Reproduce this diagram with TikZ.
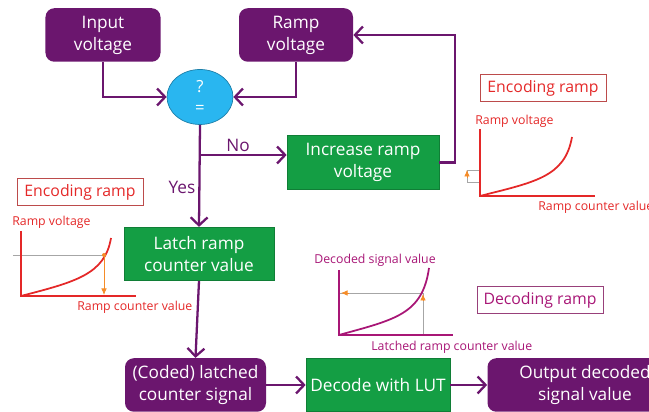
\documentclass[tikz,border=0pt]{standalone}
\usepackage{fontspec}
\setmainfont{Open Sans}
\usepackage{xcolor}
\definecolor{adcpurple}{RGB}{107,22,110}
\definecolor{adcgreen}{RGB}{20,158,68}
\definecolor{adcblue}{RGB}{41,182,240}
\definecolor{adcred}{RGB}{228,40,40}
\definecolor{adcmagenta}{RGB}{168,22,118}
\definecolor{adcorange}{RGB}{245,140,40}
\usetikzlibrary{arrows.meta, positioning, shapes.geometric}

\begin{document}
\begin{tikzpicture}[
  font=\fontsize{9.8}{12.5}\selectfont,
  purplebox/.style={fill=adcpurple, text=white, rounded corners=5pt, align=center,
    minimum height=1.07cm, inner sep=1pt},
  greenbox/.style={fill=adcgreen, draw=adcgreen!80!black, text=white, align=center,
    minimum height=1.07cm, inner sep=1pt},
  flow/.style={draw=adcpurple, line width=1.3pt, -{Straight Barb[length=1.6mm,width=3.4mm]}},
  tagbox/.style={draw=#1!60!gray, text=#1, font=\fontsize{9}{10}\selectfont, thin,
    minimum width=2.52cm, minimum height=0.54cm, inner sep=1pt},
  axislabel/.style={font=\fontsize{7}{8}\selectfont, inner sep=0pt, anchor=west},
  guide/.style={draw=gray!70, thin},
  tip/.style={adcorange, -{Latex[length=1.3mm,width=1.1mm]}}
]
  \useasboundingbox (0,0) rectangle (12.98,8.24);

  % Top inputs
  \node[purplebox, minimum width=2.3cm] (inp) at (2.06,7.54) {Input\\voltage};
  \node[purplebox, minimum width=2.28cm] (ramp) at (5.92,7.54) {Ramp\\voltage};

  % Comparator
  \node[ellipse, fill=adcblue, draw=adcblue!70!black, text=white, minimum width=1.32cm,
        minimum height=1.1cm, inner sep=0pt, align=center,
        font=\fontsize{9.5}{12}\selectfont] (cmp) at (4.00,6.30) {?\\=};

  \draw[flow] (inp.south) |- (cmp.west);
  \draw[flow] (ramp.south) |- (cmp.east);

  % Loop back
  \node[greenbox, minimum width=3.04cm] (incr) at (7.26,4.99) {Increase ramp\\voltage};
  \draw[flow] (incr.east) -- ++(0.32,0) |- (ramp.east);

  % Yes / No branch
  \node[greenbox, minimum width=3.0cm] (latch) at (3.98,3.16) {Latch ramp\\counter value};
  \coordinate (br) at (4.00,5.14);
  \draw[flow] (cmp.south) -- (latch.north);
  \draw[flow] (br) -- (br -| incr.west);
  \node[adcpurple] (no) at (4.76,5.33) {No};
  \node[adcpurple] (yes) at (3.64,4.50) {Yes};

  % Bottom row
  \node[purplebox, minimum width=2.82cm] (coded) at (3.91,0.54) {(Coded) latched\\counter signal};
  \node[greenbox, minimum width=2.88cm] (dec) at (7.56,0.54) {Decode with LUT};
  \node[purplebox, minimum width=3.9cm] (out) at (11.70,0.54) {Output decoded\\signal value};
  \draw[flow] (latch.south) -- (coded.north);
  \draw[flow] (coded.east) -- (dec.west);
  \draw[flow] (dec.east) -- (out.west);

  % Encoding ramp, right
  \node[tagbox=adcred] (encR) at (10.86,6.48) {Encoding ramp};
  \node[axislabel, adcred] (encRy) at (9.50,5.82) {Ramp voltage};
  \node[axislabel, adcred] (encRx) at (10.76,4.10) {Ramp counter value};
  \draw[guide] (9.60,4.84) -- (9.34,4.84) -- (9.34,4.60) -- (9.60,4.60);
  \draw[tip] (9.34,4.68) -- (9.34,4.84);
  \draw[adcred, line width=1.1pt] (9.60,5.66) -- (9.60,4.32) -- (11.90,4.32);
  \draw[adcred, line width=1pt] (9.60,4.32) .. controls (10.7,4.6) and (11.3,4.7) .. (11.44,5.50);

  % Encoding ramp, left
  \node[tagbox=adcred] (encL) at (1.60,4.40) {Encoding ramp};
  \node[axislabel, adcred] (encLy) at (0.24,3.80) {Ramp voltage};
  \node[axislabel, adcred] (encLx) at (1.54,2.10) {Ramp counter value};
  \draw[guide] (0.26,3.14) -- (2.08,3.14);
  \draw[adcred, line width=1.1pt] (0.42,3.62) -- (0.42,2.32) -- (2.72,2.32);
  \draw[adcred, line width=1pt] (0.42,2.32) .. controls (1.5,2.6) and (2.1,2.75) .. (2.22,3.48);
  \draw[tip] (2.08,3.14) -- (2.08,2.34);
  \fill[adcorange] (2.08,3.14) circle (0.04);

  % Decoding ramp
  \node[tagbox=adcmagenta] (decR) at (10.80,2.24) {Decoding ramp};
  \node[axislabel, adcmagenta] (decy) at (6.28,3.04) {Decoded signal value};
  \node[axislabel, adcmagenta] (decx) at (7.42,1.30) {Latched ramp counter value};
  \draw[guide] (8.46,1.54) -- (8.46,2.38) -- (6.80,2.38);
  \draw[tip] (8.46,2.22) -- (8.46,2.36);
  \draw[tip] (6.98,2.38) -- (6.82,2.38);
  \draw[adcmagenta, line width=1.1pt] (6.78,2.84) -- (6.78,1.54) -- (9.06,1.54);
  \draw[adcmagenta, line width=1pt] (6.78,1.54) .. controls (7.9,1.85) and (8.45,1.95) .. (8.58,2.88);
\end{tikzpicture}
\end{document}
